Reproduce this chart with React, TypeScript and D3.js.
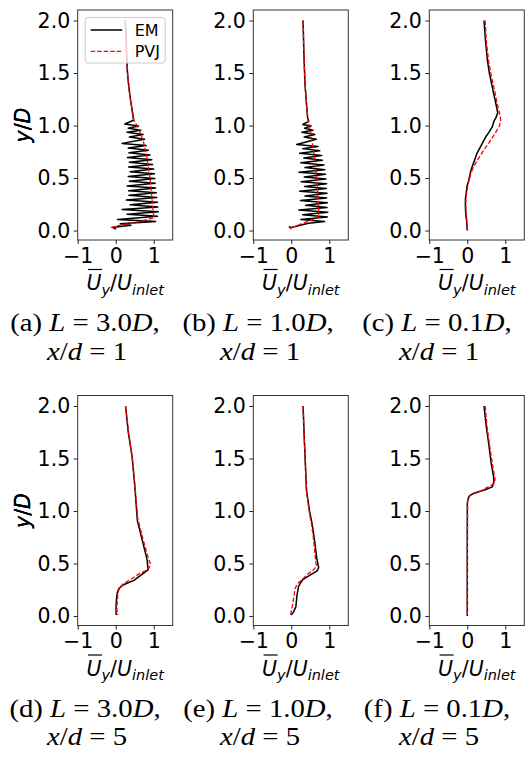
import { useEffect, useRef } from 'react';
import * as d3 from 'd3';

type Pt = [number, number]; // [U_y/U_inlet, y/D]

const yTicks = [0, 0.5, 1.0, 1.5, 2.0];
const xTicks = [-1, 0, 1];
const xDomain: [number, number] = [-1, 1.5];
const yDomain: [number, number] = [-0.09, 2.1];

const seriesNames = ['EM', 'PVJ'];
const panelLetters = ['a', 'b', 'c', 'd', 'e', 'f'];
const lengthLabels = ['3.0', '1.0', '0.1', '3.0', '1.0', '0.1'];
const xdLabels = ['1', '1', '1', '5', '5', '5'];

// (a) L = 3.0D, x/d = 1
const emA: Pt[] = [
  [0.25, 2.0], [0.27, 1.85], [0.29, 1.65], [0.31, 1.5], [0.35, 1.35], [0.4, 1.22], [0.45, 1.1], [0.47, 1.05],
  [0.24, 1.015], [0.6, 0.995], [0.33, 0.975], [0.66, 0.955], [0.3, 0.935], [0.72, 0.915], [0.36, 0.89], [0.76, 0.87],
  [0.17, 0.83], [0.8, 0.81], [0.33, 0.785], [0.86, 0.765], [0.35, 0.74], [0.9, 0.72], [0.31, 0.695], [0.95, 0.675],
  [0.36, 0.65], [0.97, 0.63], [0.34, 0.605], [1.0, 0.585], [0.38, 0.56], [1.02, 0.54], [0.33, 0.515], [1.03, 0.495],
  [0.36, 0.47], [1.04, 0.45], [0.3, 0.425], [1.05, 0.405], [0.34, 0.38], [1.07, 0.36], [0.35, 0.335], [1.08, 0.315],
  [0.28, 0.29], [1.1, 0.27], [0.38, 0.245], [1.11, 0.225], [0.17, 0.2], [1.12, 0.18], [0.3, 0.155], [1.1, 0.135],
  [0.05, 0.105], [1.05, 0.085], [0.12, 0.065], [0.4, 0.05], [-0.08, 0.03], [0.0, 0.015],
];
const pvjA: Pt[] = [
  [0.26, 2.0], [0.28, 1.8], [0.3, 1.55], [0.34, 1.38], [0.39, 1.24], [0.45, 1.12], [0.48, 1.05], [0.56, 1.0],
  [0.65, 0.93], [0.74, 0.83], [0.82, 0.7], [0.88, 0.55], [0.92, 0.45], [0.95, 0.32], [0.98, 0.2], [1.0, 0.14],
  [1.0, 0.12], [0.55, 0.08], [0.04, 0.045], [-0.1, 0.03], [0.01, 0.012],
];

// (b) L = 1.0D, x/d = 1
const emB: Pt[] = [
  [0.31, 2.0], [0.33, 1.7], [0.36, 1.4], [0.4, 1.2], [0.43, 1.07], [0.46, 1.04],
  [0.3, 1.01], [0.52, 0.995], [0.35, 0.975], [0.57, 0.955], [0.28, 0.935], [0.62, 0.915], [0.34, 0.89], [0.66, 0.87],
  [0.14, 0.82], [0.7, 0.8], [0.3, 0.78], [0.75, 0.76], [0.22, 0.735], [0.8, 0.715], [0.33, 0.69], [0.82, 0.67],
  [0.25, 0.645], [0.86, 0.625], [0.36, 0.6], [0.88, 0.58], [0.2, 0.555], [0.9, 0.535], [0.34, 0.51], [0.91, 0.49],
  [0.26, 0.465], [0.93, 0.445], [0.35, 0.42], [0.92, 0.4], [0.22, 0.375], [0.94, 0.355], [0.36, 0.33], [0.93, 0.31],
  [0.24, 0.285], [0.95, 0.265], [0.38, 0.24], [0.94, 0.22], [0.2, 0.195], [0.96, 0.175], [0.3, 0.15], [0.95, 0.13],
  [0.25, 0.105], [0.88, 0.085], [0.45, 0.07], [0.0, 0.03], [-0.05, 0.035], [0.0, 0.02],
];
const pvjB: Pt[] = [
  [0.31, 2.0], [0.33, 1.7], [0.36, 1.4], [0.4, 1.2], [0.44, 1.05], [0.5, 0.95], [0.57, 0.8], [0.63, 0.65],
  [0.67, 0.5], [0.7, 0.35], [0.72, 0.2], [0.72, 0.15], [0.6, 0.11], [0.3, 0.07], [0.0, 0.025], [-0.04, 0.03], [0.0, 0.015],
];

// (c) L = 0.1D, x/d = 1
const emC: Pt[] = [
  [0.44, 2.0], [0.48, 1.8], [0.53, 1.62], [0.58, 1.5], [0.65, 1.38], [0.72, 1.26], [0.78, 1.16], [0.8, 1.12],
  [0.76, 1.08], [0.7, 1.04], [0.66, 0.99], [0.56, 0.93], [0.5, 0.9], [0.44, 0.86], [0.35, 0.8], [0.26, 0.74],
  [0.2, 0.68], [0.13, 0.61], [0.08, 0.55], [0.04, 0.48], [-0.01, 0.42], [-0.02, 0.38], [-0.05, 0.3], [-0.05, 0.23],
  [-0.04, 0.15], [-0.02, 0.1], [0.0, 0.0],
];
const pvjC: Pt[] = [
  [0.47, 2.0], [0.5, 1.8], [0.56, 1.62], [0.63, 1.48], [0.72, 1.33], [0.78, 1.22], [0.84, 1.13], [0.87, 1.08],
  [0.88, 1.04], [0.84, 0.99], [0.72, 0.92], [0.58, 0.84], [0.44, 0.77], [0.3, 0.69], [0.17, 0.61], [0.09, 0.54],
  [0.04, 0.47], [0.0, 0.4], [-0.03, 0.33], [-0.04, 0.25], [-0.03, 0.15], [-0.01, 0.08], [0.0, 0.0],
];

// (d) L = 3.0D, x/d = 5
const emD: Pt[] = [
  [0.26, 2.0], [0.33, 1.75], [0.43, 1.52], [0.5, 1.25], [0.57, 0.91], [0.7, 0.72], [0.83, 0.53], [0.85, 0.44],
  [0.7, 0.4], [0.48, 0.34], [0.28, 0.31], [0.17, 0.29], [0.08, 0.26], [0.04, 0.22], [0.02, 0.16], [0.01, 0.09], [0.01, 0.01],
];
const pvjD: Pt[] = [
  [0.26, 2.0], [0.34, 1.75], [0.44, 1.5], [0.51, 1.22], [0.58, 0.93], [0.72, 0.73], [0.86, 0.55], [0.92, 0.49],
  [0.85, 0.44], [0.65, 0.41], [0.4, 0.35], [0.21, 0.31], [0.1, 0.27], [0.06, 0.22], [0.04, 0.14], [0.03, 0.06], [0.06, 0.01],
];

// (e) L = 1.0D, x/d = 5
const emE: Pt[] = [
  [0.31, 2.0], [0.34, 1.7], [0.37, 1.45], [0.4, 1.2], [0.44, 1.1], [0.48, 1.0], [0.53, 0.91], [0.56, 0.85],
  [0.62, 0.7], [0.67, 0.55], [0.72, 0.46], [0.68, 0.43], [0.45, 0.38], [0.31, 0.35], [0.25, 0.32], [0.19, 0.28],
  [0.15, 0.2], [0.12, 0.09], [0.06, 0.04], [0.0, 0.01],
];
const pvjE: Pt[] = [
  [0.31, 2.0], [0.34, 1.7], [0.37, 1.45], [0.4, 1.2], [0.45, 1.05], [0.49, 0.95], [0.53, 0.88], [0.58, 0.75],
  [0.62, 0.6], [0.66, 0.47], [0.55, 0.43], [0.4, 0.39], [0.27, 0.34], [0.16, 0.31], [0.1, 0.26], [0.07, 0.19],
  [0.03, 0.1], [-0.02, 0.01],
];

// (f) L = 0.1D, x/d = 5
const emF: Pt[] = [
  [0.44, 2.0], [0.5, 1.8], [0.56, 1.65], [0.63, 1.45], [0.69, 1.33], [0.7, 1.28], [0.66, 1.23], [0.45, 1.2],
  [0.17, 1.17], [0.04, 1.14], [0.0, 1.08], [0.0, 0.6], [0.0, 0.0],
];
const pvjF: Pt[] = [
  [0.47, 2.0], [0.52, 1.8], [0.59, 1.62], [0.66, 1.45], [0.73, 1.3], [0.7, 1.26], [0.5, 1.22], [0.3, 1.18],
  [0.07, 1.15], [0.01, 1.1], [0.0, 0.6], [0.0, 0.0],
];

const emSeries = [emA, emB, emC, emD, emE, emF];
const pvjSeries = [pvjA, pvjB, pvjC, pvjD, pvjE, pvjF];

const W = 528;
const H = 759;
const PANEL_LEFT = [77.7, 253.3, 429.3];
const ROW_TOP = [10, 395.5];
const PW = 95;
const PH = 230;
const CAP_X = [85, 258, 437];
const SANS = 'DejaVu Sans, sans-serif';
const SERIF = 'Liberation Serif, Times New Roman, serif';

export default function App() {
  const ref = useRef<SVGSVGElement>(null);

  useEffect(() => {
    const svg = d3.select(ref.current);
    svg.selectAll('*').remove();

    emSeries.forEach((em, i) => {
      const col = i % 3;
      const row = Math.floor(i / 3);
      const left = PANEL_LEFT[col];
      const top = ROW_TOP[row];
      const x = d3.scaleLinear().domain(xDomain).range([left, left + PW]);
      const y = d3.scaleLinear().domain(yDomain).range([top + PH, top]);
      const line = d3.line<Pt>().x(d => x(d[0])).y(d => y(d[1]));
      const g = svg.append('g');

      g.append('path').datum(em).attr('d', line)
        .attr('fill', 'none').attr('stroke', '#000').attr('stroke-width', 1.5).attr('stroke-linejoin', 'round');
      g.append('path').datum(pvjSeries[i]).attr('d', line)
        .attr('fill', 'none').attr('stroke', '#ff0000').attr('stroke-width', 1.3)
        .attr('stroke-dasharray', '4.5,2');

      // y axis
      const ya = g.append('g').attr('transform', `translate(${left},0)`)
        .call(d3.axisLeft(y).tickValues(yTicks).tickFormat(d3.format('.1f')).tickSize(4).tickPadding(3.5));
      // x axis
      const xa = g.append('g').attr('transform', `translate(0,${top + PH})`)
        .call(d3.axisBottom(x).tickValues(xTicks).tickFormat(d3.format('d')).tickSize(4).tickPadding(4));
      [ya, xa].forEach(a => {
        a.select('.domain').remove();
        a.selectAll('.tick line').attr('stroke', '#222').attr('stroke-width', 1);
        a.selectAll('.tick text').attr('fill', '#000')
          .style('font-family', SANS).style('font-size', '20.5px');
      });

      g.append('rect').attr('x', left).attr('y', top).attr('width', PW).attr('height', PH)
        .attr('fill', 'none').attr('stroke', '#333').attr('stroke-width', 1);

      // y label
      const yl = g.append('text')
        .attr('transform', `translate(30,${top + PH / 2}) rotate(-90)`)
        .attr('text-anchor', 'middle')
        .style('font-family', SANS).style('font-size', '20.5px').style('font-weight', 'normal');
      yl.append('tspan').style('font-style', 'italic').text('y');
      yl.append('tspan').text('/');
      yl.append('tspan').style('font-style', 'italic').text('D');

      // x label
      const cx = left + PW / 2;
      const xl = g.append('text').attr('x', cx).attr('y', top + PH + 50)
        .attr('text-anchor', 'middle')
        .style('font-family', SANS).style('font-size', '20.5px').style('font-style', 'italic');
      xl.append('tspan').text('U');
      xl.append('tspan').attr('dy', 4.5).style('font-size', '14.5px').text('y');
      xl.append('tspan').attr('dy', -4.5).style('font-style', 'normal').text('/');
      xl.append('tspan').text('U');
      xl.append('tspan').attr('dy', 4.5).style('font-size', '14.5px').text('inlet');
      const ext = (xl.node() as SVGTextElement).getExtentOfChar(0);
      g.append('line')
        .attr('x1', ext.x + 1.5).attr('x2', ext.x + ext.width + 0.5)
        .attr('y1', top + PH + 29.5).attr('y2', top + PH + 29.5)
        .attr('stroke', '#000').attr('stroke-width', 1.2);

      // caption, widened to the Computer Modern footprint
      const capY = row === 0 ? 331 : 331 + 385.5;
      const c1 = g.append('text')
        .attr('transform', `translate(${CAP_X[col]},${capY}) scale(1.15,1)`)
        .attr('text-anchor', 'middle')
        .style('font-family', SERIF).style('font-size', '25px');
      c1.append('tspan').text(`(${panelLetters[i]}) `);
      c1.append('tspan').style('font-style', 'italic').text('L');
      c1.append('tspan').text(' = ');
      c1.append('tspan').text(lengthLabels[i]);
      c1.append('tspan').style('font-style', 'italic').text('D');
      c1.append('tspan').text(',');
      const c2 = g.append('text')
        .attr('transform', `translate(${CAP_X[col] + 2},${capY + 28.5}) scale(1.15,1)`)
        .attr('text-anchor', 'middle')
        .style('font-family', SERIF).style('font-size', '25px');
      c2.append('tspan').style('font-style', 'italic').text('x');
      c2.append('tspan').text('/');
      c2.append('tspan').style('font-style', 'italic').text('d');
      c2.append('tspan').text(` = ${xdLabels[i]}`);

      // legend only in first panel
      if (i === 0) {
        const lg = g.append('g');
        lg.append('rect').attr('x', left + 7.5).attr('y', top + 7.5).attr('width', 80).attr('height', 45.5)
          .attr('rx', 3).attr('fill', '#fff').attr('fill-opacity', 0.8)
          .attr('stroke', '#ccc').attr('stroke-width', 1);
        seriesNames.forEach((name, k) => {
          const ly = top + 20 + k * 21.3;
          lg.append('line').attr('x1', left + 13).attr('x2', left + 44.5).attr('y1', ly).attr('y2', ly)
            .attr('stroke', k === 0 ? '#000' : '#ff0000').attr('stroke-width', k === 0 ? 1.5 : 1.3)
            .attr('stroke-dasharray', k === 0 ? null : '4.5,2');
          lg.append('text').attr('x', left + 57).attr('y', ly).attr('dy', '0.36em')
            .style('font-family', SANS).style('font-size', '16px').text(name);
        });
      }
    });
  }, []);

  return (
    <svg ref={ref} width={W} height={H}
      style={{ position: 'absolute', left: 0, top: 0, background: '#fff' }} />
  );
}
